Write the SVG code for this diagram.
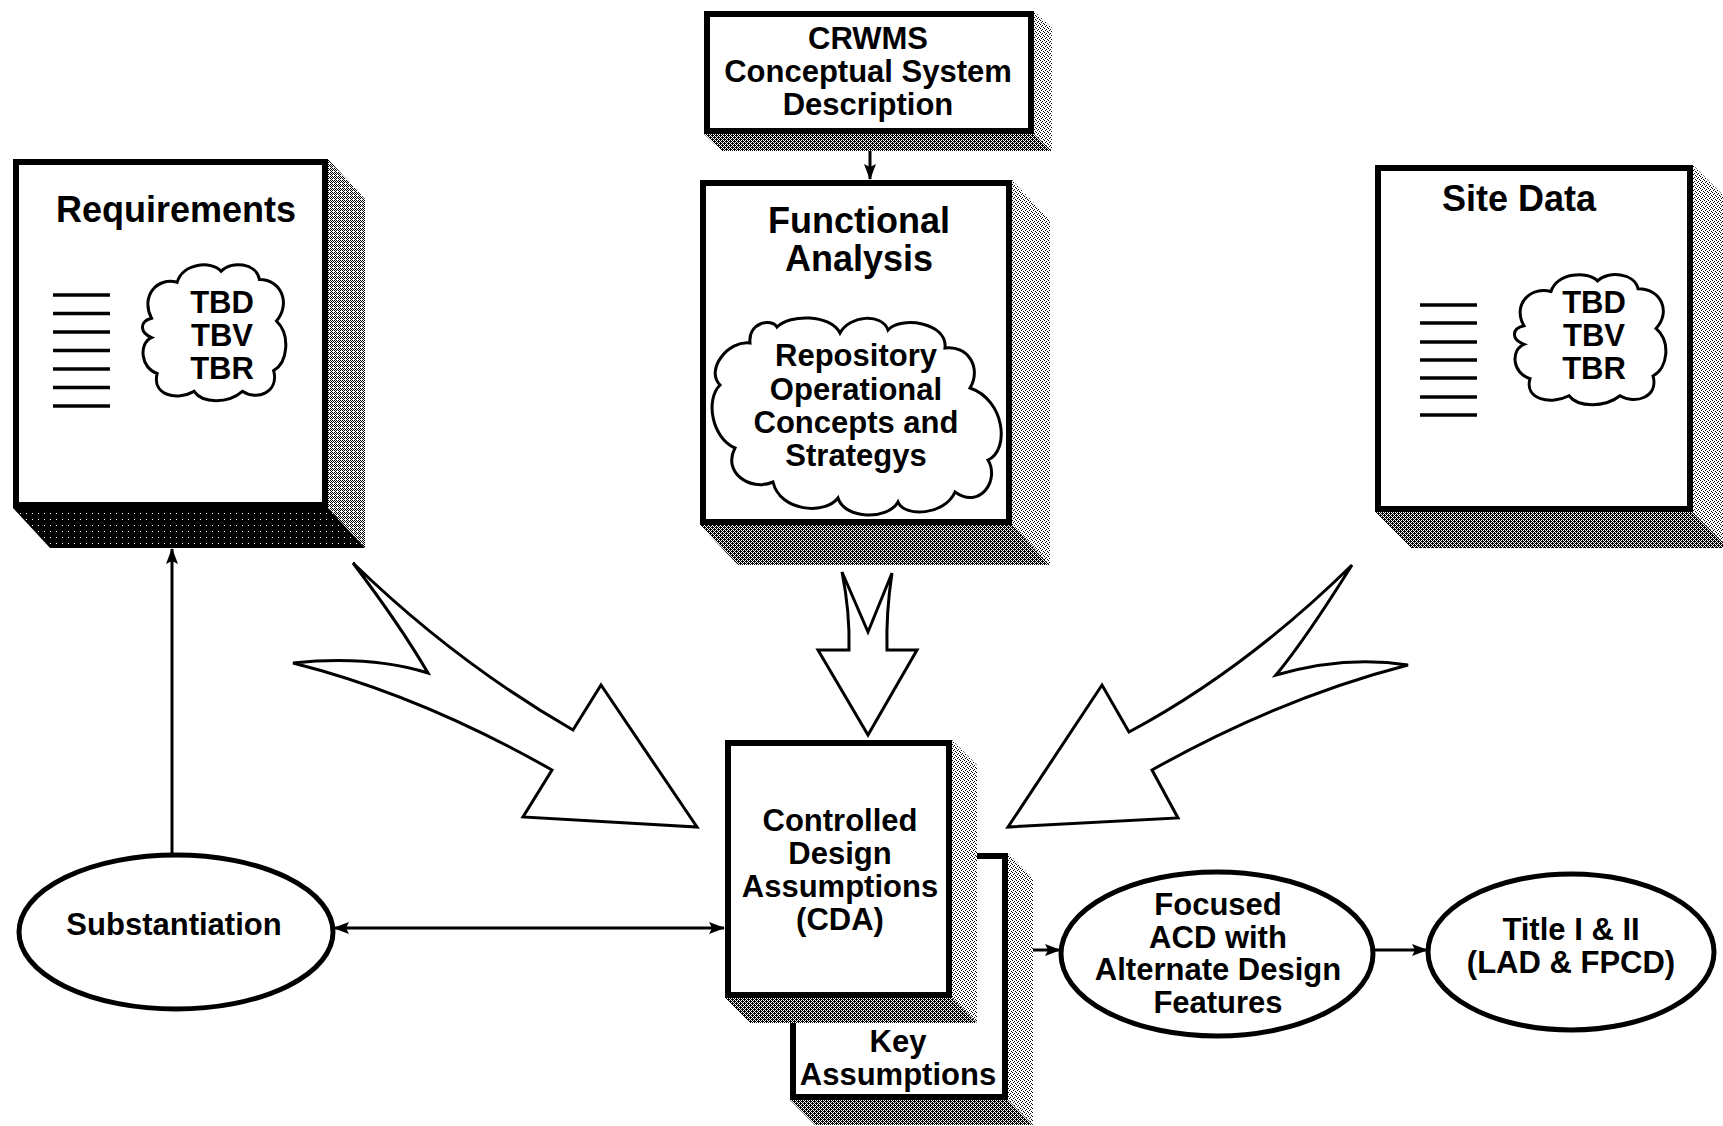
<svg xmlns="http://www.w3.org/2000/svg" xmlns:xlink="http://www.w3.org/1999/xlink" width="1723" height="1126" viewBox="0 0 1723 1126">
<style>
  text { font-family: "Liberation Sans", Arial, Helvetica, sans-serif; font-weight: bold; fill: #000; text-anchor: middle; }
  .t36 { font-size: 36px; }
  .t31 { font-size: 31px; }
  .box { fill: #fff; stroke: #000; stroke-width: 6; }
  .ell { fill: #fff; stroke: #000; stroke-width: 5; }
  .cloud { fill: #fff; stroke: #000; stroke-width: 3; }
  .fat { fill: #fff; stroke: #000; stroke-width: 3; stroke-linejoin: miter; }
  .ln { stroke: #000; stroke-width: 3.5; }
  .conn { stroke: #000; stroke-width: 3; fill: none; }
</style>
<defs>
  <pattern id="pLight" width="4" height="4" patternUnits="userSpaceOnUse">
    <rect width="4" height="4" fill="#fff"/>
    <rect x="0" y="0" width="1" height="1" fill="#000"/>
    <rect x="2" y="1" width="1" height="1" fill="#000"/>
    <rect x="1" y="2" width="1" height="1" fill="#000"/>
    <rect x="3" y="3" width="1" height="1" fill="#000"/>
  </pattern>
  <pattern id="pHalf" width="4" height="4" patternUnits="userSpaceOnUse">
    <rect width="4" height="4" fill="#fff"/>
    <rect x="0" y="0" width="1" height="1" fill="#000"/>
    <rect x="2" y="0" width="1" height="1" fill="#000"/>
    <rect x="1" y="1" width="1" height="1" fill="#000"/>
    <rect x="3" y="1" width="1" height="1" fill="#000"/>
    <rect x="0" y="2" width="1" height="1" fill="#000"/>
    <rect x="2" y="2" width="1" height="1" fill="#000"/>
    <rect x="3" y="3" width="1" height="1" fill="#000"/>
  </pattern>
  <pattern id="pMid" width="4" height="4" patternUnits="userSpaceOnUse">
    <rect width="4" height="4" fill="#000"/>
    <rect x="1" y="0" width="1" height="1" fill="#fff"/>
    <rect x="3" y="0" width="1" height="1" fill="#fff"/>
    <rect x="0" y="1" width="1" height="1" fill="#fff"/>
    <rect x="1" y="2" width="1" height="1" fill="#fff"/>
    <rect x="3" y="2" width="1" height="1" fill="#fff"/>
    <rect x="2" y="3" width="1" height="1" fill="#fff"/>
  </pattern>
  <pattern id="pBlack" width="6" height="6" patternUnits="userSpaceOnUse">
    <rect width="6" height="6" fill="#000"/>
    <rect x="2" y="3" width="1" height="1" fill="#fff"/>
  </pattern>
  <path id="cloudShape" vector-effect="non-scaling-stroke" d="M 6,40 C -2,24 10,10 24,14 C 28,0 48,-2 55,6 C 62,-2 80,0 82,12 C 98,12 104,30 94,42 C 104,52 102,72 92,78 C 96,94 80,100 70,93 C 60,102 42,102 36,93 C 24,100 6,96 10,80 C -2,76 -3,58 6,54 C -3,50 -2,42 6,40 Z"/>
  <marker id="ah" markerUnits="userSpaceOnUse" markerWidth="16" markerHeight="12" refX="15" refY="6" orient="auto-start-reverse">
    <path d="M0,0 L16,6 L0,12 L3,6 Z" fill="#000"/>
  </marker>
</defs>

<rect width="1723" height="1126" fill="#fff"/>

<!-- CRWMS Conceptual System Description -->
<g id="crwms">
  <polygon points="1034,11 1052,28 1052,151 1034,134" fill="url(#pLight)"/>
  <polygon points="704,134 1034,134 1052,151 722,151" fill="url(#pMid)"/>
  <rect class="box" x="707" y="14" width="324" height="117"/>
  <text class="t31" x="868" y="49">CRWMS</text>
  <text class="t31" x="868" y="82">Conceptual System</text>
  <text class="t31" x="868" y="115">Description</text>
</g>

<!-- Functional Analysis -->
<g id="functional-analysis">
  <polygon points="1012,180 1050,220 1050,565 1012,525" fill="url(#pLight)"/>
  <polygon points="700,525 1012,525 1050,565 738,565" fill="url(#pMid)"/>
  <rect class="box" x="703" y="183" width="306" height="339"/>
  <text class="t36" x="859" y="233">Functional</text>
  <text class="t36" x="859" y="271">Analysis</text>
  <path class="cloud" d="M 720,385 C 705,370 728,340 750,343 C 748,322 772,318 777,327 C 790,314 830,314 840,333 C 850,315 882,313 888,330 C 900,316 948,322 945,348 C 968,345 982,368 970,388 C 1005,400 1010,450 988,460 C 1000,480 980,510 955,492 C 945,515 905,518 898,502 C 888,520 845,520 838,498 C 825,515 780,512 773,482 C 750,492 722,472 735,448 C 712,438 705,400 720,385 Z"/>
  <text class="t31" x="856" y="366">Repository</text>
  <text class="t31" x="856" y="400">Operational</text>
  <text class="t31" x="856" y="433">Concepts and</text>
  <text class="t31" x="856" y="466">Strategys</text>
</g>

<!-- Requirements -->
<g id="requirements">
  <polygon points="328,159 365,199 365,548 328,508" fill="url(#pHalf)"/>
  <polygon points="13,508 328,508 365,548 50,548" fill="url(#pBlack)"/>
  <rect class="box" x="16" y="162" width="309" height="343"/>
  <text class="t36" x="176" y="222">Requirements</text>
  <line class="ln" x1="53" y1="295" x2="110" y2="295"/>
  <line class="ln" x1="53" y1="313.5" x2="110" y2="313.5"/>
  <line class="ln" x1="53" y1="332" x2="110" y2="332"/>
  <line class="ln" x1="53" y1="350.5" x2="110" y2="350.5"/>
  <line class="ln" x1="53" y1="369" x2="110" y2="369"/>
  <line class="ln" x1="53" y1="387.5" x2="110" y2="387.5"/>
  <line class="ln" x1="53" y1="406" x2="110" y2="406"/>
  <use class="cloud" xlink:href="#cloudShape" href="#cloudShape" transform="translate(143,263) scale(1.42,1.38)"/>
  <text class="t31" x="222" y="313">TBD</text>
  <text class="t31" x="222" y="346">TBV</text>
  <text class="t31" x="222" y="379">TBR</text>
</g>

<!-- Site Data -->
<g id="site-data">
  <polygon points="1693,165 1729,201 1729,548 1693,512" fill="url(#pLight)"/>
  <polygon points="1375,512 1693,512 1729,548 1411,548" fill="url(#pMid)"/>
  <rect class="box" x="1378" y="168" width="312" height="341"/>
  <text class="t36" x="1519" y="211">Site Data</text>
  <line class="ln" x1="1420" y1="305" x2="1477" y2="305"/>
  <line class="ln" x1="1420" y1="323" x2="1477" y2="323"/>
  <line class="ln" x1="1420" y1="342" x2="1477" y2="342"/>
  <line class="ln" x1="1420" y1="360" x2="1477" y2="360"/>
  <line class="ln" x1="1420" y1="378" x2="1477" y2="378"/>
  <line class="ln" x1="1420" y1="397" x2="1477" y2="397"/>
  <line class="ln" x1="1420" y1="415" x2="1477" y2="415"/>
  <use class="cloud" xlink:href="#cloudShape" href="#cloudShape" transform="translate(1515,273) scale(1.5,1.32)"/>
  <text class="t31" x="1594" y="313">TBD</text>
  <text class="t31" x="1594" y="346">TBV</text>
  <text class="t31" x="1594" y="379">TBR</text>
</g>

<!-- Key Assumptions (behind CDA) -->
<g id="key-assumptions">
  <polygon points="1008,853 1033,878 1033,1125 1008,1100" fill="url(#pLight)"/>
  <polygon points="790,1100 1008,1100 1033,1125 815,1125" fill="url(#pMid)"/>
  <rect class="box" x="793" y="856" width="212" height="241"/>
  <text class="t31" x="898" y="1052">Key</text>
  <text class="t31" x="898" y="1085">Assumptions</text>
</g>

<!-- Controlled Design Assumptions -->
<g id="cda">
  <polygon points="952,740 977,765 977,1023 952,998" fill="url(#pLight)"/>
  <polygon points="725,998 952,998 977,1023 750,1023" fill="url(#pMid)"/>
  <rect class="box" x="728" y="743" width="221" height="252"/>
  <text class="t31" x="840" y="831">Controlled</text>
  <text class="t31" x="840" y="864">Design</text>
  <text class="t31" x="840" y="897">Assumptions</text>
  <text class="t31" x="840" y="930">(CDA)</text>
</g>

<!-- Substantiation -->
<g id="substantiation">
  <ellipse class="ell" cx="176" cy="932" rx="157" ry="77"/>
  <text class="t31" x="174" y="935">Substantiation</text>
</g>

<!-- Focused ACD -->
<g id="focused-acd">
  <ellipse class="ell" cx="1217" cy="954" rx="156" ry="82"/>
  <text class="t31" x="1218" y="915">Focused</text>
  <text class="t31" x="1218" y="948">ACD with</text>
  <text class="t31" x="1218" y="980">Alternate Design</text>
  <text class="t31" x="1218" y="1013">Features</text>
</g>

<!-- Title I & II -->
<g id="title-1-2">
  <ellipse class="ell" cx="1571" cy="952" rx="143" ry="78"/>
  <text class="t31" x="1571" y="940">Title I &amp; II</text>
  <text class="t31" x="1571" y="973">(LAD &amp; FPCD)</text>
</g>

<!-- Connectors -->
<g id="connectors">
  <path class="fat" d="M 353,563 Q 455,662 573,730 L 601,685 L 697,827 L 523,817 L 552,770 Q 420,695 293,663 Q 370,655 428,673 Q 400,625 353,563 Z"/>
  <path class="fat" d="M 1352,565 Q 1245,670 1129,732 L 1102,685 L 1008,827 L 1178,818 L 1152,770 Q 1280,698 1408,665 Q 1345,655 1276,675 Q 1305,640 1352,565 Z"/>
  <path class="fat" d="M 842,572 L 868,632 L 892,573 Q 886,612 887,650 L 917,650 L 868,735 L 818,650 L 849,650 Q 850,612 842,572 Z"/>
  <line class="conn" x1="870" y1="151" x2="870" y2="179" marker-end="url(#ah)"/>
  <line class="conn" x1="172" y1="855" x2="172" y2="549" marker-end="url(#ah)"/>
  <line class="conn" x1="334" y1="928" x2="724" y2="928" marker-start="url(#ah)" marker-end="url(#ah)"/>
  <line class="conn" x1="1033" y1="950" x2="1060" y2="950" marker-end="url(#ah)"/>
  <line class="conn" x1="1373" y1="950" x2="1427" y2="950" marker-end="url(#ah)"/>
</g>
</svg>
